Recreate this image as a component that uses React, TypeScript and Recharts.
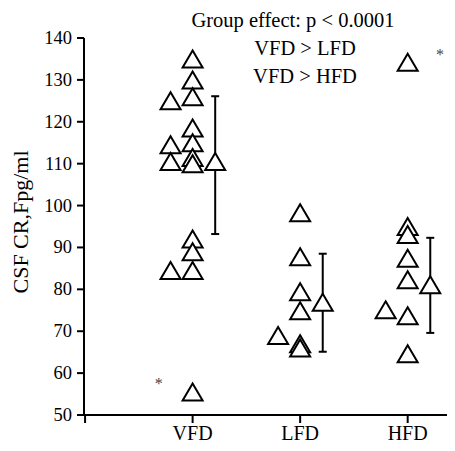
import { ComposedChart, Scatter, XAxis, YAxis, ErrorBar } from "recharts";

const groups = ["VFD", "LFD", "HFD"];

// individual values, main column and the shifted left column per group
const vfdMain = [135, 130, 126, 118.5, 115, 111.5, 110, 92, 89, 84.5, 55.5];
const vfdLeft = [125, 114.5, 110.5, 84.5];
const lfdMain = [98.3, 87.8, 79.4, 74.9, 67, 66];
const lfdLeft = [69];
const hfdMain = [134.2, 95, 93.1, 87.4, 82.3, 73.7, 64.6];
const hfdLeft = [75.1];

// group means with [lower, upper] error
const means = [110.5, 76.9, 81.1];
const errLow = [17.3, 11.8, 11.5];
const errHigh = [15.6, 11.6, 11.2];

// outlier asterisks
const starGroups = [1, 3];
const starValues = [58.2, 136.7];

const yTicks = [50, 60, 70, 80, 90, 100, 110, 120, 130, 140];

const LEFT_COL = -0.205;
const MEAN_COL = 0.21;
const STAR_COL = [-0.315, 0.3];

const FONT = "Liberation Serif";

const mainPts = [vfdMain, lfdMain, hfdMain].flatMap((vals, i) => vals.map((v) => ({ x: i + 1, y: v })));
const leftPts = [vfdLeft, lfdLeft, hfdLeft].flatMap((vals, i) => vals.map((v) => ({ x: i + 1 + LEFT_COL, y: v })));
const meanPts = means.map((m, i) => ({ x: i + 1 + MEAN_COL, y: m, err: [errLow[i], errHigh[i]] }));
const starPts = starGroups.map((g, i) => ({ x: g + STAR_COL[i], y: starValues[i] }));

const Triangle = (props: any) => {
  const { cx, cy } = props;
  if (cx == null || cy == null) return null;
  const w = 10;
  const h = 8.5;
  return (
    <path
      d={`M${cx},${cy - h}L${cx + w},${cy + h}L${cx - w},${cy + h}Z`}
      fill="#fff"
      stroke="#000"
      strokeWidth={2}
    />
  );
};

const Star = (props: any) => {
  const { cx, cy } = props;
  if (cx == null || cy == null) return null;
  return (
    <text x={cx} y={cy + 8} textAnchor="middle" fontSize={16} fontFamily={FONT} fill="#444">
      *
    </text>
  );
};

const YTick = (props: any) => {
  const { x, y, payload } = props;
  return (
    <text x={x} y={y} textAnchor="end" dominantBaseline="central" fontSize={18.5} fontFamily={FONT} fill="#000">
      {payload.value}
    </text>
  );
};

const XTick = (props: any) => {
  const { x, y, payload } = props;
  const label = payload.value >= 1 ? groups[payload.value - 1] : "";
  return (
    <text x={x} y={y + 13} textAnchor="middle" fontSize={20} fontFamily={FONT} fill="#000">
      {label}
    </text>
  );
};

export default function App() {
  return (
    <ComposedChart width={447} height={443} margin={{ top: 30, right: 0, bottom: 6, left: 0 }}>
      <XAxis
        type="number"
        dataKey="x"
        domain={[-0.01, 3.44]}
        ticks={[0, 1, 2, 3]}
        allowDataOverflow
        height={30}
        tickSize={8}
        tickMargin={4}
        stroke="#000"
        strokeWidth={2}
        tick={<XTick />}
      />
      <YAxis
        type="number"
        dataKey="y"
        domain={[50, 140]}
        ticks={yTicks}
        allowDataOverflow
        width={76}
        tickSize={7}
        tickMargin={5}
        stroke="#000"
        strokeWidth={2}
        tick={<YTick />}
      />
      <Scatter data={leftPts} shape={Triangle} isAnimationActive={false} />
      <Scatter data={mainPts} shape={Triangle} isAnimationActive={false} />
      <Scatter data={meanPts} shape={Triangle} isAnimationActive={false}>
        <ErrorBar dataKey="err" direction="y" width={4} stroke="#000" strokeWidth={2} />
      </Scatter>
      <Scatter data={starPts} shape={Star} isAnimationActive={false} />
      <text x={12} y={214} transform="rotate(-90 12 214)" textAnchor="middle" dominantBaseline="central" fontSize={22} fontFamily={FONT} fill="#000">
        CSF CR,Fpg/ml
      </text>
      <text x={285} y={19} textAnchor="middle" fontSize={20.5} fontFamily={FONT} fill="#000">
        Group effect: p &lt; 0.0001
      </text>
      <text x={297} y={47} textAnchor="middle" fontSize={20.5} fontFamily={FONT} fill="#000">
        VFD &gt; LFD
      </text>
      <text x={297} y={75} textAnchor="middle" fontSize={20.5} fontFamily={FONT} fill="#000">
        VFD &gt; HFD
      </text>
    </ComposedChart>
  );
}
